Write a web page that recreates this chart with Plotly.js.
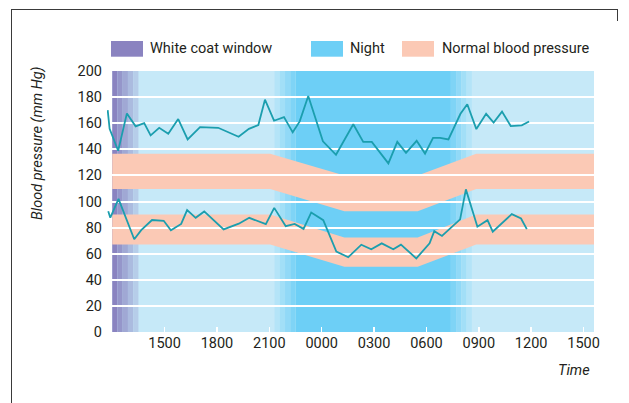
<!DOCTYPE html>
<html>
<head>
<meta charset="utf-8">
<script src="https://cdn.plot.ly/plotly-3.0.1.min.js"></script>
<style>
  html, body { margin: 0; padding: 0; background: #ffffff; }
  #wrap { position: relative; width: 629px; height: 403px; overflow: hidden; }
  #chart { width: 629px; height: 403px; }
  #frameL { position: absolute; left: 11px; top: 9px; width: 0; height: 400px; border-left: 1px solid #3a3a3a; pointer-events: none; }
  #frameT { position: absolute; left: 11px; top: 9px; width: 606px; height: 0; border-top: 1px solid #3a3a3a; pointer-events: none; }
  #frameR { position: absolute; left: 617px; top: 9px; width: 0; height: 12px; border-left: 1px solid #3a3a3a; pointer-events: none; }
</style>
</head>
<body>
<div id="wrap">
  <div id="chart"></div>
  <div id="frameL"></div><div id="frameT"></div><div id="frameR"></div>
</div>
<script>
// ---- data (time in hours from midnight of day 1; 24 = 0000 next day) ----
const tickHours = [15, 18, 21, 24, 27, 30, 33, 36, 39];
const tickLabels = ['1500', '1800', '2100', '0000', '0300', '0600', '0900', '1200', '1500'];
const yTicks = [0, 20, 40, 60, 80, 100, 120, 140, 160, 180, 200];

const systolicTime = [11.74, 11.85, 12.34, 12.84, 13.34, 13.83, 14.20, 14.69, 15.21, 15.78, 16.32, 17.03, 18.07, 19.24, 19.83, 20.37, 20.75, 21.27, 21.84, 22.34, 22.74, 23.23, 24.07, 24.82, 25.81, 26.38, 26.87, 27.82, 28.33, 28.83, 29.44, 29.92, 30.38, 30.78, 31.26, 31.95, 32.34, 32.86, 33.42, 33.85, 34.33, 34.83, 35.46, 35.88];
const systolic = [170, 155.7, 138.9, 167.5, 157.6, 160.1, 150.7, 156.5, 151.9, 163.2, 147.6, 157, 156.5, 149.6, 155.7, 158.6, 178, 161.9, 164.7, 153, 161.4, 180.8, 146.1, 135.8, 159.2, 145.7, 145.7, 129.2, 145.7, 137.3, 146.5, 136.7, 148.8, 148.8, 147.6, 167.2, 174.5, 155.5, 167.2, 160.5, 168.9, 157.8, 158.4, 161.3];

const diastolicTime = [11.77, 11.89, 12.36, 13.26, 13.66, 14.28, 14.95, 15.36, 15.95, 16.29, 16.78, 17.27, 18.38, 19.25, 19.85, 20.80, 21.28, 21.94, 22.45, 22.96, 23.40, 24.09, 24.84, 25.52, 26.27, 26.84, 27.44, 28.10, 28.54, 29.42, 30.18, 30.45, 30.89, 31.93, 32.26, 32.92, 33.50, 33.80, 34.89, 35.42, 35.75];
const diastolic = [92.6, 87.6, 102, 71.1, 78, 85.8, 85.2, 78, 82.8, 93.4, 87.5, 92.4, 78.6, 83, 87.5, 82.6, 95.1, 81.1, 82.8, 79, 91.6, 85.7, 61.7, 57.3, 66.9, 63.4, 67.9, 63.4, 66.9, 56.4, 68, 77.3, 73.6, 86.3, 109.3, 80.7, 85.7, 76.9, 90.3, 87, 78.8];

// normal blood pressure bands
const bandTime = [12, 21.05, 25.3, 29.5, 32.85, 39.6];
const sysUpper = [136.5, 136.5, 120, 120, 136.5, 136.5];
const sysLower = [109.5, 109.5, 92.5, 92.5, 109.5, 109.5];
const diaUpper = [90, 90, 72.5, 72.5, 90, 90];
const diaLower = [67, 67, 50, 50, 67, 67];

// background periods
const chartStart = 12, chartEnd = 39.6;
const whiteCoatEdges = [12.0, 12.3, 12.6, 12.9, 13.2, 13.5];
const duskEdges = [21.3, 21.6, 21.9, 22.2, 22.5];
const dawnEdges = [31.4, 31.7, 32.0, 32.3, 32.6];

const legendLabels = ['White coat window', 'Night', 'Normal blood pressure'];

// ---- styles ----
const DAY = [198, 233, 248], NIGHT = [109, 207, 246], PURPLE = [138, 131, 192];
const PINK = '#fbc9b5', LINE = '#1b9eae', TXT = '#231f20';
const FONT = 'Roboto, "Liberation Sans", sans-serif';
const FS = 14.5;

function mix(a, b, t) {
  return 'rgb(' + a.map((v, i) => Math.round(v + (b[i] - v) * t)).join(',') + ')';
}

const L = 107, R = 35, T = 71, B = 71, W = 629 - L - R, H = 403 - T - B;
const px = v => (v - L) / W;            // pixel x -> paper
const py = v => (403 - B - v) / H;      // pixel y -> paper

const shapes = [];
shapes.push({type: 'rect', xref: 'x', yref: 'paper', x0: chartStart, x1: chartEnd, y0: 0, y1: 1,
  fillcolor: mix(DAY, DAY, 0), line: {width: 0}, layer: 'below'});
shapes.push({type: 'rect', xref: 'x', yref: 'paper', x0: duskEdges[duskEdges.length - 1], x1: dawnEdges[0], y0: 0, y1: 1,
  fillcolor: mix(NIGHT, NIGHT, 0), line: {width: 0}, layer: 'below'});
for (let i = 0; i < duskEdges.length - 1; i++) {
  shapes.push({type: 'rect', xref: 'x', yref: 'paper', x0: duskEdges[i], x1: duskEdges[i + 1], y0: 0, y1: 1,
    fillcolor: mix(DAY, NIGHT, (i + 1) / duskEdges.length), line: {width: 0}, layer: 'below'});
}
for (let i = 0; i < dawnEdges.length - 1; i++) {
  shapes.push({type: 'rect', xref: 'x', yref: 'paper', x0: dawnEdges[i], x1: dawnEdges[i + 1], y0: 0, y1: 1,
    fillcolor: mix(NIGHT, DAY, (i + 1) / dawnEdges.length), line: {width: 0}, layer: 'below'});
}
for (let i = 0; i < whiteCoatEdges.length - 1; i++) {
  shapes.push({type: 'rect', xref: 'x', yref: 'paper', x0: whiteCoatEdges[i], x1: whiteCoatEdges[i + 1], y0: 0, y1: 1,
    fillcolor: mix(PURPLE, DAY, i / (whiteCoatEdges.length - 0.5)), line: {width: 0}, layer: 'below'});
}
function bandPath(upper, lower) {
  let p = 'M ' + bandTime[0] + ',' + upper[0];
  for (let i = 1; i < bandTime.length; i++) p += ' L ' + bandTime[i] + ',' + upper[i];
  for (let i = bandTime.length - 1; i >= 0; i--) p += ' L ' + bandTime[i] + ',' + lower[i];
  return p + ' Z';
}
shapes.push({type: 'path', xref: 'x', yref: 'y', path: bandPath(sysUpper, sysLower), fillcolor: PINK, line: {width: 0}, layer: 'below'});
shapes.push({type: 'path', xref: 'x', yref: 'y', path: bandPath(diaUpper, diaLower), fillcolor: PINK, line: {width: 0}, layer: 'below'});

const swatchColors = [mix(PURPLE, PURPLE, 0), mix(NIGHT, NIGHT, 0), PINK];
const swatchX = [111, 311, 402];
const textX = [148, 348, 439.5];
const annotations = [];
for (let i = 0; i < 3; i++) {
  shapes.push({type: 'rect', xref: 'paper', yref: 'paper', x0: px(swatchX[i]), x1: px(swatchX[i] + 32),
    y0: py(56.7), y1: py(41), fillcolor: swatchColors[i], line: {width: 0}});
  annotations.push({xref: 'paper', yref: 'paper', x: px(textX[i]), y: py(49), xanchor: 'left', yanchor: 'middle',
    text: legendLabels[i], showarrow: false, font: {family: FONT, size: FS, color: TXT}});
}
annotations.push({xref: 'paper', yref: 'paper', x: px(37), y: py(143), xanchor: 'center', yanchor: 'middle',
  text: '<i>Blood pressure (mm Hg)</i>', textangle: -90, showarrow: false, font: {family: FONT, size: FS, color: TXT}});
annotations.push({xref: 'paper', yref: 'paper', x: px(592), y: py(370), xanchor: 'right', yanchor: 'middle',
  text: '<i>Time</i>', showarrow: false, font: {family: FONT, size: FS, color: TXT}});

const traces = [
  {x: systolicTime, y: systolic, type: 'scatter', mode: 'lines', line: {color: LINE, width: 1.8}, hoverinfo: 'skip'},
  {x: diastolicTime, y: diastolic, type: 'scatter', mode: 'lines', line: {color: LINE, width: 1.8}, hoverinfo: 'skip'}
];

const layout = {
  width: 629, height: 403,
  margin: {l: L, r: R, t: T, b: B},
  paper_bgcolor: '#ffffff', plot_bgcolor: '#ffffff',
  showlegend: false,
  font: {family: FONT, size: FS, color: TXT},
  xaxis: {range: [11.7, chartEnd], tickmode: 'array', tickvals: tickHours, ticktext: tickLabels,
    ticks: 'inside', ticklen: 5, tickwidth: 1.5, tickcolor: '#ffffff', showgrid: false, zeroline: false,
    showline: false, tickfont: {family: FONT, size: FS, color: TXT}, fixedrange: true},
  yaxis: {range: [0, 200], tickmode: 'array', tickvals: yTicks, ticks: '', showgrid: true,
    gridcolor: '#ffffff', gridwidth: 2, zeroline: false, showline: false, ticklabelstandoff: 4,
    tickfont: {family: FONT, size: FS, color: TXT}, fixedrange: true},
  shapes: shapes,
  annotations: annotations
};

Plotly.newPlot('chart', traces, layout, {displayModeBar: false, staticPlot: true});
</script>
</body>
</html>
